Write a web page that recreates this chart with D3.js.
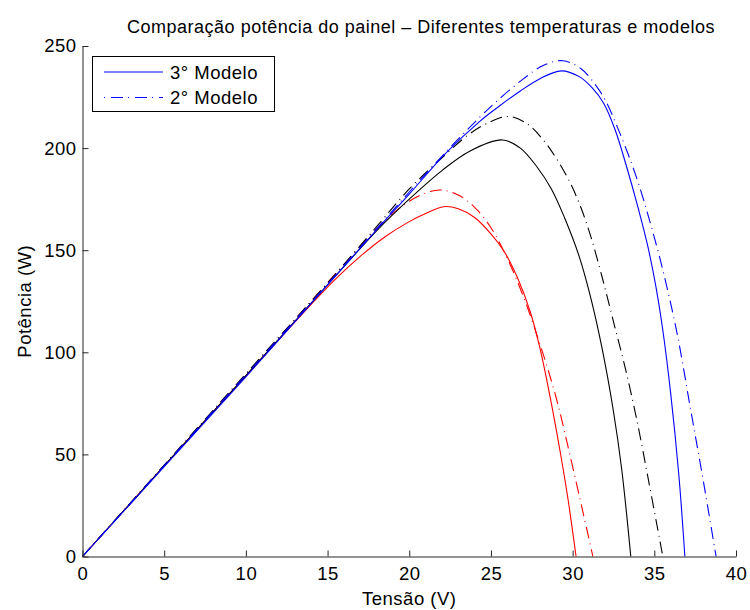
<!DOCTYPE html>
<html>
<head>
<meta charset="utf-8">
<script src="https://cdn.jsdelivr.net/npm/d3@7"></script>
<style>
  body { margin: 0; background: #fff; }
  text { font-family: "Liberation Sans", Arial, Helvetica, sans-serif; letter-spacing: 0.5px; }
</style>
</head>
<body>
<div id="chart"></div>
<script>
// tensão (V) e potência (W)
var redSolidV   = [0, 5, 10, 14, 15.5, 17, 18.5, 20, 21, 22.1, 23, 24, 25, 25.8, 26.6, 27.4, 28.0, 28.6, 29.2, 29.7, 30.21];
var redSolidP   = [0, 44.4, 88.5, 123.5, 136, 147, 156.5, 164, 168, 171.3, 170.3, 166, 158, 149.5, 137, 120, 102, 79, 53, 29, 0];
var redDashV    = [0, 5, 10, 14, 16, 18, 19, 20, 21, 21.9, 23, 24, 25, 26, 27, 28, 29, 30, 31.24];
var redDashP    = [0, 44.6, 89, 125, 143, 160.5, 168, 174, 178, 179.5, 177, 171, 161, 146, 127, 104, 77.5, 44, 0];
var blackSolidV = [0, 5, 10, 15, 18, 20, 22, 23.7, 25.7, 26.8, 27.8, 28.7, 29.5, 30.4, 31.1, 31.8, 32.5, 33.0, 33.56];
var blackSolidP = [0, 44.4, 88.6, 133, 159.5, 175, 189, 198.5, 204, 200, 191, 180, 166, 147, 127, 102, 71, 43, 0];
var blackDashV  = [0, 5, 10, 15, 18, 20, 21.7, 23.7, 25, 26.1, 27.2, 28.2, 29.0, 29.85, 30.5, 31.1, 31.8, 32.5, 33.2, 33.9, 34.7, 35.52];
var blackDashP  = [0, 44.8, 89.5, 134, 161.5, 180, 193, 207, 213, 215.5, 212, 204, 195, 183, 171, 157, 137, 115, 93, 68, 35, 0];
var blueSolidV  = [0, 5, 10, 15, 18, 20, 22.3, 24.3, 25.5, 26.8, 28, 29.3, 30.4, 31.2, 31.9, 32.6, 33.3, 34.0, 34.6, 35.1, 35.5, 36.0, 36.5, 36.87];
var blueSolidP  = [0, 44, 88, 133, 160, 177.5, 198, 213, 220.5, 228, 234, 237.8, 235, 229.5, 222, 209, 191, 171, 152, 132, 112, 80, 40, 0];
var blueDashV   = [0, 5, 10, 15, 18, 20, 22, 24.3, 25.5, 27, 28.2, 29.4, 30.5, 31.3, 32.0, 32.7, 33.4, 34.1, 34.8, 35.5, 36.4, 37.2, 38.0, 38.78];
var blueDashP   = [0, 44.5, 89, 133.5, 160.5, 178.5, 196, 215, 224, 234, 240.5, 242.8, 239, 232, 223.5, 211, 197, 181, 162, 141, 109, 73, 37, 0];

var xTicks = [0, 5, 10, 15, 20, 25, 30, 35, 40];
var yTicks = [0, 50, 100, 150, 200, 250];
var legendLabels = ["3° Modelo", "2° Modelo"];

var width = 750, height = 610;
var margin = {left: 82.5, right: 14, top: 46, bottom: 53.5};

var svg = d3.select("#chart").append("svg")
    .attr("width", width).attr("height", height);

var x = d3.scaleLinear().domain([0, 40]).range([margin.left, width - margin.right]);
var y = d3.scaleLinear().domain([0, 250]).range([height - margin.bottom, margin.top]);

var dashDot = "12,5,1,5";
var series = [
  {v: redSolidV, p: redSolidP, color: "#ff0000", dash: null},
  {v: redDashV, p: redDashP, color: "#ff0000", dash: dashDot},
  {v: blackSolidV, p: blackSolidP, color: "#000000", dash: null},
  {v: blackDashV, p: blackDashP, color: "#000000", dash: dashDot},
  {v: blueSolidV, p: blueSolidP, color: "#0000ff", dash: null},
  {v: blueDashV, p: blueDashP, color: "#0000ff", dash: dashDot}
];

var line = d3.line()
    .x(function(d) { return x(d[0]); })
    .y(function(d) { return y(d[1]); })
    .curve(d3.curveCatmullRom.alpha(0.5));

svg.selectAll("path.serie")
  .data(series)
  .enter().append("path")
    .attr("class", "serie")
    .attr("fill", "none")
    .attr("stroke", function(d) { return d.color; })
    .attr("stroke-width", 1.1)
    .attr("stroke-dasharray", function(d) { return d.dash; })
    .attr("d", function(d) { return line(d.v.map(function(v, i) { return [v, d.p[i]]; })); });

// eixos
var xAxis = svg.append("g")
    .attr("transform", "translate(0," + (height - margin.bottom) + ")")
    .call(d3.axisBottom(x).tickValues(xTicks).tickSizeInner(-6).tickSizeOuter(0).tickPadding(10));
var yAxis = svg.append("g")
    .attr("transform", "translate(" + margin.left + ",0)")
    .call(d3.axisLeft(y).tickValues(yTicks).tickSizeInner(-6).tickSizeOuter(0).tickPadding(6));

[xAxis, yAxis].forEach(function(g) {
  g.select(".domain").attr("stroke", "#262626");
  g.selectAll(".tick line").attr("stroke", "#262626");
  g.selectAll(".tick text").attr("font-size", 18.5).attr("fill", "#000")
    .style("font-family", '"Liberation Sans", Arial, sans-serif');
});

svg.append("text")
    .attr("x", 421).attr("y", 33)
    .attr("text-anchor", "middle")
    .attr("font-size", 18)
    .text("Comparação potência do painel – Diferentes temperaturas e modelos");

svg.append("text")
    .attr("x", x(20)).attr("y", 605)
    .attr("text-anchor", "middle")
    .attr("font-size", 18.5)
    .text("Tensão (V)");

svg.append("text")
    .attr("transform", "translate(31," + y(125) + ") rotate(-90)")
    .attr("text-anchor", "middle")
    .attr("font-size", 18.5)
    .text("Potência (W)");

// legenda
var legend = svg.append("g");
legend.append("rect")
    .attr("x", 92.5).attr("y", 56.5).attr("width", 182).attr("height", 55)
    .attr("fill", "#fff").attr("stroke", "#000").attr("stroke-width", 1);

legendLabels.forEach(function(lbl, i) {
  var cy = 72 + i * 25.5;
  legend.append("line")
      .attr("x1", 104).attr("x2", 163).attr("y1", cy).attr("y2", cy)
      .attr("stroke", "#0000ff").attr("stroke-width", 1.1)
      .attr("stroke-dasharray", i === 1 ? "1,6,12,5" : null);
  legend.append("text")
      .attr("x", 170).attr("y", cy + 6.5)
      .attr("font-size", 18.5)
      .text(lbl);
});
</script>
</body>
</html>
